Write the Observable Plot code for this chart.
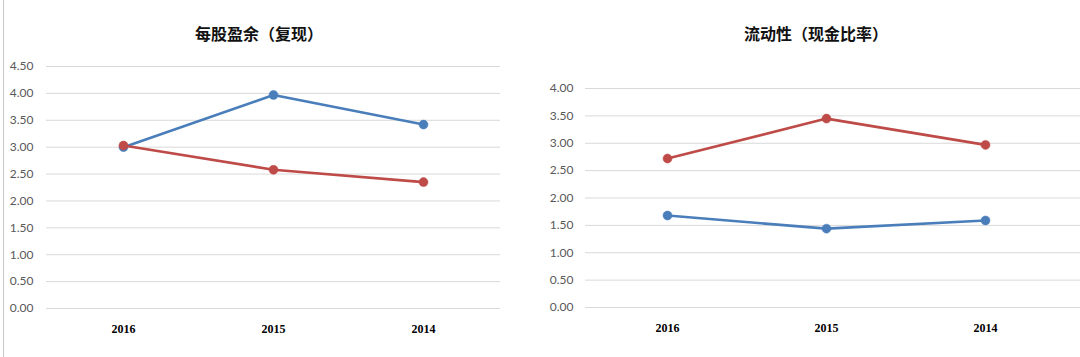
<!DOCTYPE html>
<html><head><meta charset="utf-8">
<script src="https://cdn.jsdelivr.net/npm/d3@7"></script>
<script src="https://cdn.jsdelivr.net/npm/@observablehq/plot@0.6"></script>
<style>
html,body{margin:0;padding:0;background:#fff;}
#wrap{position:relative;width:1080px;height:357px;overflow:hidden;background:#fff;}
.panel{position:absolute;top:0;height:357px;}
.title{position:absolute;top:22px;font-family:"Noto Sans CJK SC",sans-serif;font-weight:bold;font-size:16px;color:#111;white-space:nowrap;transform:translateX(-50%);line-height:22px;}
#edge{position:absolute;left:3px;top:0;width:1px;height:357px;background:#c8c8c8;}
</style></head>
<body><div id="wrap"><div id="edge"></div>
<div class="panel" id="p1" style="left:0;width:540px"></div>
<div class="panel" id="p2" style="left:540px;width:540px"></div>
<div class="title" style="left:259px">每股盈余（复现）</div>
<div class="title" style="left:816px">流动性（现金比率）</div>
</div>
<script>
const years = ["2016", "2015", "2014"];
const epsBlue = [3.00, 3.97, 3.42];
const epsRed = [3.03, 2.58, 2.35];
const cashBlue = [1.68, 1.44, 1.59];
const cashRed = [2.72, 3.45, 2.97];
const epsTicks = [0, 0.5, 1, 1.5, 2, 2.5, 3, 3.5, 4, 4.5];
const cashTicks = [0, 0.5, 1, 1.5, 2, 2.5, 3, 3.5, 4];
const BLUE = "#4a7ebb", RED = "#be4b48";

function rows(vals){ return years.map((y,i)=>({year:y, v:vals[i]})); }

function chart({series, ticks, ymax, y0, ytop, mL, mR, xr, tickPad}) {
  const marks = [
    Plot.ruleY(ticks, {stroke:"#d9d9d9", strokeWidth:1}),
    Plot.axisY({ticks, tickSize:0, tickPadding:tickPad, tickFormat:d3.format(".2f"),
      fontSize:12, fill:"#595959", fontFamily:"Lato, sans-serif"}),
    Plot.axisX({tickSize:0, tickPadding:16, fontSize:12, fontWeight:"bold",
      fontFamily:"'Liberation Serif', serif", fill:"#000"})
  ];
  for (const s of series) {
    const d = rows(s.vals);
    marks.push(Plot.line(d, {x:"year", y:"v", stroke:s.color, strokeWidth:2.6}));
    marks.push(Plot.dot(d, {x:"year", y:"v", fill:s.color, r:4.5, stroke:s.color, strokeWidth:0.5}));
  }
  return Plot.plot({
    width:540, height:357,
    marginTop:ytop, marginBottom:357-y0, marginLeft:mL, marginRight:mR,
    x:{type:"point", domain:years, range:xr, padding:0.5, label:null},
    y:{domain:[0,ymax], label:null},
    style:{background:"transparent", overflow:"visible"},
    marks
  });
}

document.getElementById("p1").appendChild(chart({
  series:[{vals:epsBlue,color:BLUE},{vals:epsRed,color:RED}],
  ticks:epsTicks, ymax:4.5, y0:308, ytop:66, mL:46, mR:40, xr:[48,498], tickPad:13
}));
document.getElementById("p2").appendChild(chart({
  series:[{vals:cashBlue,color:BLUE},{vals:cashRed,color:RED}],
  ticks:cashTicks, ymax:4, y0:307, ytop:88, mL:45, mR:0, xr:[47.5,524.5], tickPad:12
}));
</script>
</body></html>
